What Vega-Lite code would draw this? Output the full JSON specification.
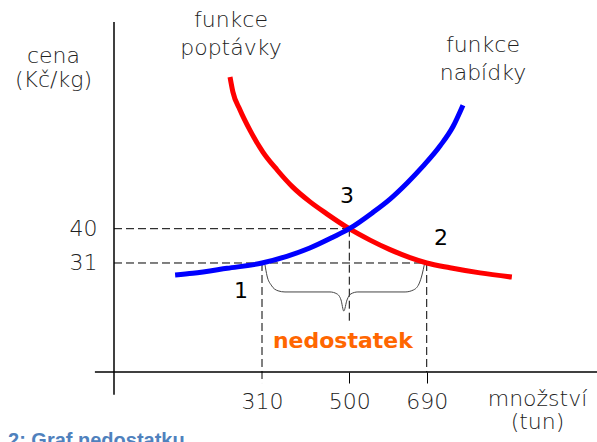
{
  "$schema": "https://vega.github.io/schema/vega-lite/v6.json",
  "width": 483,
  "height": 372,
  "autosize": "none",
  "padding": {"left": 114, "top": 0, "right": 0, "bottom": 70},
  "background": "white",
  "config": {"view": {"stroke": null}},
  "datasets": {
    "curves": [
      {"curve": "poptávka", "x": 243, "y": 79.8},
      {"curve": "poptávka", "x": 249, "y": 75.9},
      {"curve": "poptávka", "x": 264, "y": 71.15},
      {"curve": "poptávka", "x": 285, "y": 65.8},
      {"curve": "poptávka", "x": 312, "y": 60.1},
      {"curve": "poptávka", "x": 343, "y": 55.4},
      {"curve": "poptávka", "x": 377, "y": 50.9},
      {"curve": "poptávka", "x": 414, "y": 47.1},
      {"curve": "poptávka", "x": 451, "y": 43.9},
      {"curve": "poptávka", "x": 500, "y": 40},
      {"curve": "poptávka", "x": 551, "y": 37.0},
      {"curve": "poptávka", "x": 600, "y": 34.5},
      {"curve": "poptávka", "x": 649, "y": 32.4},
      {"curve": "poptávka", "x": 690, "y": 31},
      {"curve": "poptávka", "x": 747, "y": 29.75},
      {"curve": "poptávka", "x": 821, "y": 28.4},
      {"curve": "poptávka", "x": 899, "y": 27.3},
      {"curve": "nabídka", "x": 128, "y": 27.85},
      {"curve": "nabídka", "x": 165, "y": 28.3},
      {"curve": "nabídka", "x": 237, "y": 29.6},
      {"curve": "nabídka", "x": 310, "y": 31},
      {"curve": "nabídka", "x": 364, "y": 32.76},
      {"curve": "nabídka", "x": 414, "y": 34.94},
      {"curve": "nabídka", "x": 464, "y": 37.77},
      {"curve": "nabídka", "x": 500, "y": 40},
      {"curve": "nabídka", "x": 558, "y": 44.28},
      {"curve": "nabídka", "x": 600, "y": 47.77},
      {"curve": "nabídka", "x": 642, "y": 52.0},
      {"curve": "nabídka", "x": 681, "y": 56.4},
      {"curve": "nabídka", "x": 723, "y": 61.75},
      {"curve": "nabídka", "x": 755, "y": 66.87},
      {"curve": "nabídka", "x": 779, "y": 72.38}
    ],
    "dashed": [
      {"x": 0, "y": 40, "x2": 500, "y2": 40},
      {"x": 0, "y": 31, "x2": 690, "y2": 31},
      {"x": 310, "y": 31, "x2": 310, "y2": -0.5},
      {"x": 500, "y": 40, "x2": 500, "y2": 15.3},
      {"x": 690, "y": 31, "x2": 690, "y2": 2.4}
    ],
    "axes": [
      {"x": -40, "y": 2.4, "x2": 1108, "y2": 2.4},
      {"x": 0, "y": -3.6, "x2": 0, "y2": 94.2}
    ],
    "brace": [
      {"x": 316.5, "y": 30.5},
      {"x": 321, "y": 27.6},
      {"x": 330, "y": 25.2},
      {"x": 345, "y": 23.7},
      {"x": 360, "y": 23.4},
      {"x": 458, "y": 23.4},
      {"x": 473, "y": 22.9},
      {"x": 482, "y": 21.3},
      {"x": 488, "y": 18.4},
      {"x": 495, "y": 21.3},
      {"x": 504, "y": 22.9},
      {"x": 521, "y": 23.4},
      {"x": 637, "y": 23.4},
      {"x": 657, "y": 23.9},
      {"x": 671, "y": 25.5},
      {"x": 679, "y": 28.1},
      {"x": 684, "y": 30.5}
    ],
    "labels": [
      {"x": 245, "y": 92.9, "text": "funkce\npoptávky"},
      {"x": 828, "y": 86.4, "text": "funkce\nnabídky"}
    ],
    "points": [
      {"x": 266, "y": 23.7, "text": "1", "w": "bold"},
      {"x": 725, "y": 37.6, "text": "2", "w": "normal"},
      {"x": 495, "y": 48.6, "text": "3", "w": "normal"}
    ],
    "shortage": [
      {"x": 486, "y": 8.7, "text": "nedostatek"}
    ],
    "caption": [
      {"x": -222, "y": -17.3, "text": "2: Graf nedostatku"}
    ]
  },
  "encoding": {
    "x": {
      "field": "x",
      "type": "quantitative",
      "scale": {"domain": [0, 310, 500, 1108], "range": [0, 148, 235.3, 483], "nice": false, "zero": false},
      "axis": {
        "values": [310, 500, 690],
        "domain": false,
        "grid": false,
        "tickSize": 11,
        "tickWidth": 1,
        "tickColor": {"condition": {"test": "datum.value == 310", "value": "transparent"}, "value": "black"},
        "labelPadding": 8,
        "labelFont": "DejaVu Sans",
        "labelFontSize": 22,
        "labelFontWeight": 200,
        "labelColor": "#222222",
        "title": ["množství", "(tun)"],
        "titleFont": "DejaVu Sans",
        "titleFontSize": 22,
        "titleFontWeight": 200,
        "titleColor": "#222222",
        "titleX": 423,
        "titleY": 33,
        "titleAlign": "center",
        "titleBaseline": "alphabetic",
        "titleLineHeight": 23
      }
    },
    "y": {
      "field": "y",
      "type": "quantitative",
      "scale": {"domain": [2.4, 100], "nice": false, "zero": false},
      "axis": {
        "values": [31, 40],
        "domain": false,
        "grid": false,
        "ticks": false,
        "labelPadding": 17,
        "labelFont": "DejaVu Sans",
        "labelFontSize": 22,
        "labelFontWeight": 200,
        "labelColor": "#222222",
        "title": ["cena", "(Kč/kg)"],
        "titleFont": "DejaVu Sans",
        "titleFontSize": 22,
        "titleFontWeight": 200,
        "titleColor": "#222222",
        "titleAngle": 0,
        "titleX": -61,
        "titleY": 62,
        "titleAlign": "center",
        "titleBaseline": "alphabetic",
        "titleLineHeight": 24
      }
    }
  },
  "layer": [
    {
      "data": {"name": "axes"},
      "mark": {"type": "rule", "color": "black", "strokeWidth": 1.5},
      "encoding": {"x2": {"field": "x2"}, "y2": {"field": "y2"}}
    },
    {
      "data": {"name": "dashed"},
      "mark": {"type": "rule", "color": "black", "strokeWidth": 1, "strokeDash": [8, 4]},
      "encoding": {"x2": {"field": "x2"}, "y2": {"field": "y2"}}
    },
    {
      "data": {"name": "brace"},
      "mark": {"type": "line", "color": "#444444", "strokeWidth": 1, "interpolate": "monotone"}
    },
    {
      "data": {"name": "curves"},
      "mark": {"type": "line", "strokeWidth": 5, "interpolate": "monotone"},
      "encoding": {
        "color": {"field": "curve", "type": "nominal", "scale": {"domain": ["poptávka", "nabídka"], "range": ["#ff0000", "#0000ff"]}, "legend": null}
      }
    },
    {
      "data": {"name": "labels"},
      "mark": {"type": "text", "font": "DejaVu Sans", "fontSize": 22, "fontWeight": 200, "color": "#222222", "align": "center", "baseline": "alphabetic", "lineBreak": "\n", "lineHeight": 28},
      "encoding": {"text": {"field": "text"}}
    },
    {
      "data": {"name": "points"},
      "mark": {"type": "text", "font": "DejaVu Sans", "fontSize": 22, "color": "black", "align": "center", "baseline": "middle"},
      "encoding": {"text": {"field": "text"}, "fontWeight": {"field": "w", "type": "nominal", "scale": null}}
    },
    {
      "data": {"name": "shortage"},
      "mark": {"type": "text", "font": "DejaVu Sans", "fontSize": 22, "fontWeight": "bold", "color": "#ff6600", "align": "center", "baseline": "alphabetic"},
      "encoding": {"text": {"field": "text"}}
    },
    {
      "data": {"name": "caption"},
      "mark": {"type": "text", "font": "Liberation Sans", "fontSize": 20, "fontWeight": "bold", "color": "#4f81bd", "align": "left", "baseline": "alphabetic"},
      "encoding": {"text": {"field": "text"}}
    }
  ]
}
